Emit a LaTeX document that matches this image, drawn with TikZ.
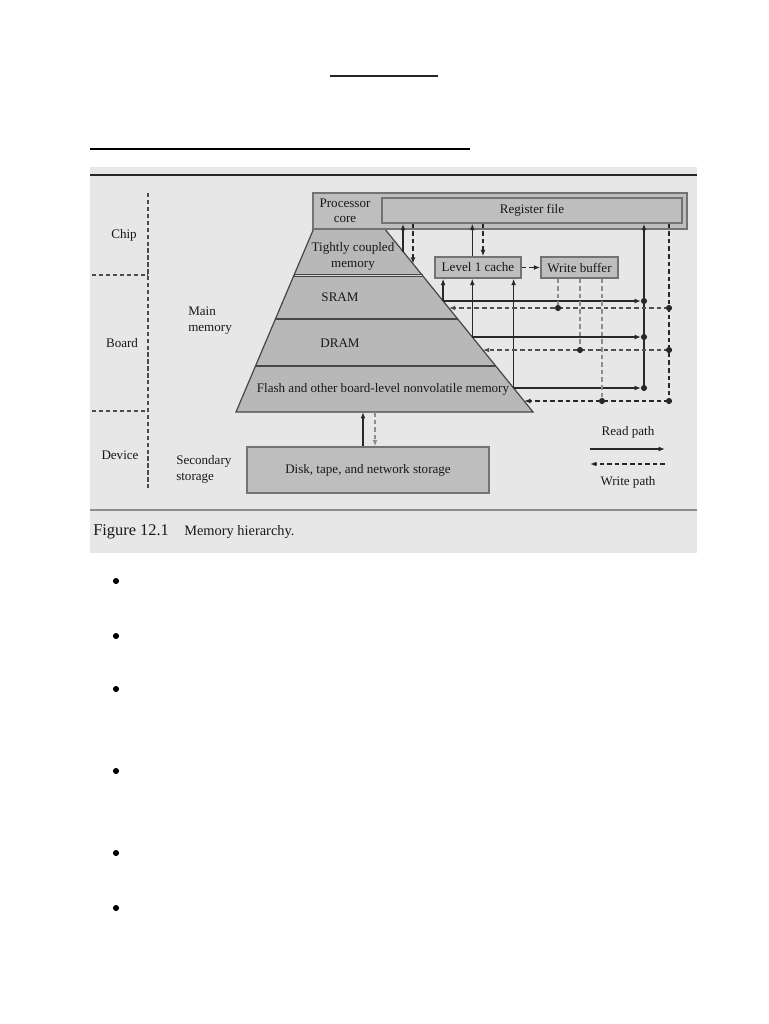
\documentclass[tikz,border=0pt]{standalone}
\usepackage{fontspec}
\setmainfont{Liberation Serif}
\usetikzlibrary{arrows.meta,fit}
\definecolor{figbg}{RGB}{231,231,231}
\definecolor{boxfill}{RGB}{190,190,190}
\definecolor{pyrfill}{RGB}{184,184,184}
\definecolor{boxedge}{RGB}{115,115,115}
\definecolor{pyredge}{RGB}{70,70,70}
\definecolor{linec}{RGB}{40,40,40}
\definecolor{dashc}{RGB}{80,80,80}
\definecolor{dashl}{RGB}{140,140,140}
\definecolor{txt}{RGB}{25,25,25}
\begin{document}
\begin{tikzpicture}[x=0.75pt,y=-0.75pt,
  lbl/.style={font=\fontsize{9.8}{11.5}\selectfont, text=txt, inner sep=0pt},
  boxn/.style={draw=boxedge, fill=boxfill, line width=1pt, inner sep=0pt},
  rd/.style={draw=linec, line width=0.95pt},
  wr/.style={draw=dashc, line width=0.95pt, dash pattern=on 3.4pt off 2.3pt},
  wrdark/.style={draw=linec, line width=0.95pt, dash pattern=on 3.4pt off 2.3pt},
  wrl/.style={draw=dashl, line width=0.95pt, dash pattern=on 3.4pt off 2.3pt},
  tipr/.style={-{Latex[length=4.8pt,width=3.6pt]}},
  dot/.style={circle, fill=linec, inner sep=0pt, minimum size=4.6pt},
  bul/.style={circle, fill=black, inner sep=0pt, minimum size=4.6pt},
  sepl/.style={draw=pyredge, line width=1.6pt},
  divl/.style={draw=black!70, line width=0.8pt, dash pattern=on 3.2pt off 2pt}
]
\useasboundingbox (0,0) rectangle (768,1024);
\fill[white] (0,0) rectangle (768,1024);

% page rules
\draw[line width=1.5pt, draw=black!85] (330,76) -- (438,76);
\draw[line width=2pt, draw=black] (90,149) -- (470,149);

% figure background
\fill[figbg] (90,167) rectangle (697,553);
\draw[line width=0.8pt, draw=black!85] (90,175) -- (697,175);
\draw[line width=0.8pt, draw=black!45] (90,510) -- (697,510);

% left divisions
\draw[divl] (148,193) -- (148,490);
\draw[divl] (92,275) -- (148,275);
\draw[divl] (92,411) -- (148,411);
\node[lbl] (chip) at (124,235) {Chip};
\node[lbl] (board) at (122,343) {Board};
\node[lbl] (device) at (120,455) {Device};
\node[lbl, align=left, anchor=west] (mainmem) at (188,320.5) {Main\\memory};
\node[lbl, align=left, anchor=west] (secst) at (176,469.5) {Secondary\\storage};

% pyramid
\fill[pyrfill] (314,228) -- (384,228) -- (533,412) -- (236,412) -- cycle;
\draw[draw=pyredge, line width=0.9pt] (384,228) -- (533,412) -- (236,412) -- (314,228);
\draw[sepl, line width=2.6pt] (293.9,275.5) -- (422.5,275.5);
\draw[draw=pyrfill!60!white, line width=0.7pt] (294.5,275.5) -- (421.8,275.5);
\draw[sepl] (275.4,319) -- (457.7,319);
\draw[sepl] (255.5,366) -- (495.8,366);
\node[lbl, align=center] (tcm) at (353,256.5) {Tightly coupled\\memory};
\node[lbl] (sram) at (340,297) {SRAM};
\node[lbl] (dram) at (340,343) {DRAM};
\node[lbl] (flash) at (383,389) {Flash and other board-level nonvolatile memory};

% processor core and register file
\node[boxn, fit={(313,193) (687,229)}] (proc) {};
\node[lbl, align=center] (proclbl) at (345,210.5) {Processor\\core};
\node[boxn, fit={(382,198) (682,223)}] (regfile) {};
\node[lbl] (regfilelbl) at (regfile.center) {Register file};

% caches
\node[boxn, fit={(435,257) (521,278)}] (l1) {};
\node[lbl] (l1lbl) at (l1.center) {Level 1 cache};
\node[boxn, fit={(541,257) (618,278)}] (wb) {};
\node[lbl] (wblbl) at (wb.center) {Write buffer};

% disk
\node[boxn, fit={(247,447) (489,493)}] (disk) {};
\node[lbl] (disklbl) at (disk.center) {Disk, tape, and network storage};

% coordinates
\coordinate (pR1) at (443.1,301);
\coordinate (pR2) at (472.3,337);
\coordinate (pR3) at (513.6,388);
\coordinate (pW1) at (448.8,308);
\coordinate (pW2) at (482.8,350);
\coordinate (pW3) at (524.1,401);
\coordinate (rA) at (644,301);
\coordinate (rB) at (644,337);
\coordinate (rC) at (644,388);
\coordinate (wA) at (669,308);
\coordinate (wB) at (669,350);
\coordinate (wC) at (669,401);
\coordinate (bA) at (558,308);
\coordinate (bB) at (580,350);
\coordinate (bC) at (602,401);
\coordinate (tA) at (403,251.5);
\coordinate (tB) at (413,263.8);
\coordinate (cA) at (483,240);
\coordinate (fA) at (363,412);
\coordinate (fB) at (375,412);

% register file <-> TCM
\draw[rd,tipr] (tA) -- (regfile.south -| tA);
\draw[wrdark,tipr] (regfile.south -| tB) -- (tB);

% register file <-> L1
\draw[rd,tipr] (l1.north -| pR2) -- (regfile.south -| pR2);
\draw[wrdark,tipr] (regfile.south -| cA) -- (l1.north -| cA);

% L1 -> write buffer
\draw[wrdark,tipr] (l1) -- (wb);

% read path bus
\draw[rd,tipr] (rC) -- (regfile.south -| rC);
\draw[rd,tipr,shorten >=2.2pt] (pR1) -- (rA);
\draw[rd,tipr,shorten >=2.2pt] (pR2) -- (rB);
\draw[rd,tipr,shorten >=2.2pt] (pR3) -- (rC);
\draw[rd,tipr] (pR1) -- (l1.south -| pR1);
\draw[rd,tipr] (pR2) -- (l1.south -| pR2);
\draw[rd,tipr] (pR3) -- (l1.south -| pR3);

% write path bus
\draw[wrdark] (regfile.south -| wC) -- (wC);
\draw[wr,tipr] (wA) -- (pW1);
\draw[wr,tipr] (wB) -- (pW2);
\draw[wrdark,tipr] (wC) -- (pW3);
\draw[wrl] (wb.south -| bA) -- (bA);
\draw[wrl] (wb.south -| bB) -- (bB);
\draw[wrl] (wb.south -| bC) -- (bC);

% flash <-> disk
\draw[rd,tipr] (disk.north -| fA) -- (fA);
\draw[wrl,tipr] (fB) -- (disk.north -| fB);

% dots
\foreach \p in {rA,rB,rC,wA,wB,wC,bA,bB,bC}
  \node[dot] at (\p) {};

% legend
\node[lbl] (readlbl) at (628,432) {Read path};
\node[lbl] (writelbl) at (628,482) {Write path};
\coordinate (lr1) at (590,449);
\coordinate (lr2) at (665,449);
\coordinate (lw1) at (665,464);
\coordinate (lw2) at (590,464);
\draw[rd,tipr] (lr1) -- (lr2);
\draw[wrdark,tipr] (lw1) -- (lw2);

% caption
\node[anchor=west, inner sep=0pt, font=\fontsize{12.3}{14}\selectfont, text=txt] (figno) at (93,532) {Figure 12.1};
\node[anchor=west, inner sep=0pt, font=\fontsize{10.8}{13}\selectfont, text=txt] (figcap) at (184,532.5) {Memory hierarchy.};

% bullets
\foreach \yy in {581,636,689,771,853,908}
  \node[bul] at (116,\yy) {};
\end{tikzpicture}
\end{document}
